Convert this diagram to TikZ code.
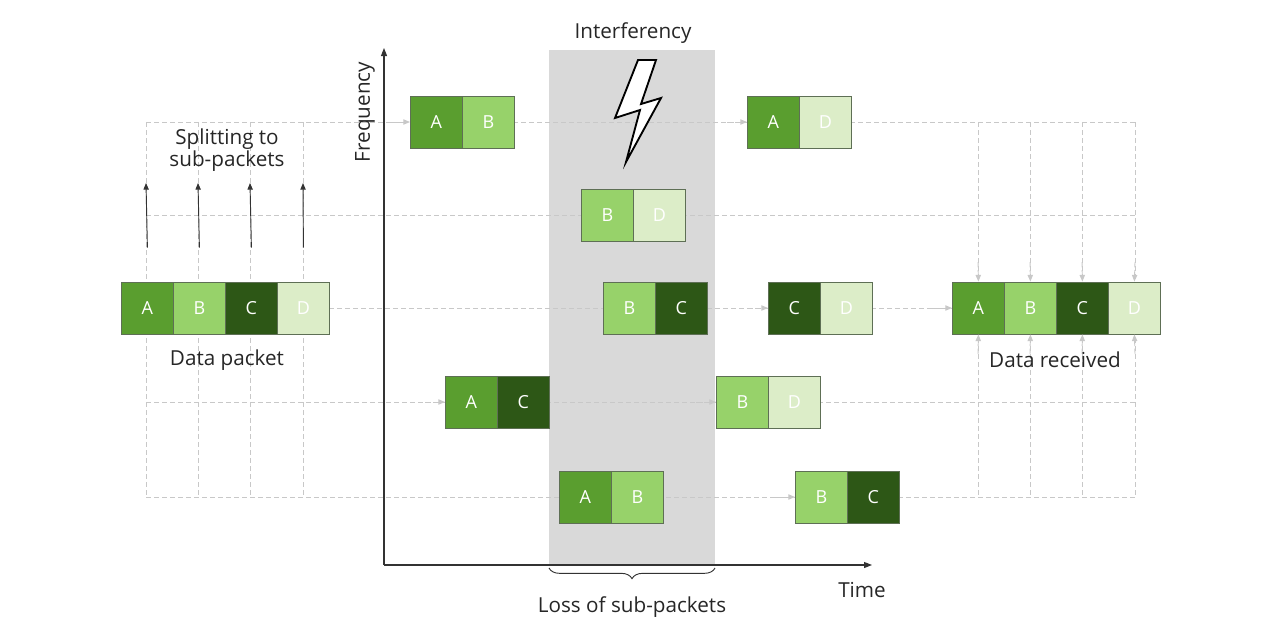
\documentclass[tikz,border=0pt]{standalone}
\usepackage{fontspec}
\setmainfont{Open Sans}
\usetikzlibrary{decorations.pathreplacing,arrows.meta}
\definecolor{cA}{HTML}{5A9E2F}
\definecolor{cB}{HTML}{97D26A}
\definecolor{cC}{HTML}{2D5716}
\definecolor{cD}{HTML}{DCEDC8}
\definecolor{gl}{HTML}{C8C8C8}
\definecolor{band}{HTML}{D9D9D9}
\tikzset{
 cell/.style={minimum width=39pt,minimum height=39pt,inner sep=0pt,draw=cC!40!gray,line width=0.6pt,text=white,font=\fontsize{13.5}{13.5}\selectfont,anchor=west},
 gd/.style={draw=gl,dashed,line width=0.7pt,dash pattern=on 4pt off 2pt},
 ga/.style={gd,-{Triangle[length=5pt,width=4pt]}},
 lbl/.style={font=\fontsize{15.5}{17}\selectfont,text=black!85,align=center}
}
\newcommand{\pkt}[4]{% name, x, y, letters list
 \foreach \L [count=\i from 0] in {#4} {\node[cell,fill=c\L] (#1\L) at ({#2+52*\i},#3) {\L};}}
\begin{document}
\begin{tikzpicture}[x=0.75pt,y=-0.75pt]
\useasboundingbox (0,0) rectangle (1280,640);
\fill[band] (549,50) rectangle (715,565);
% grid
\foreach \x in {146,198,250,303} \draw[gd] (\x,122) -- (\x,497);
\foreach \x in {978,1030,1082,1135} \draw[gd] (\x,122) -- (\x,497);
\draw[gd] (146,122) -- (410,122);
\draw[gd] (513,122) -- (747,122);
\draw[gd] (850,122) -- (1135,122);
\draw[gd] (146,215) -- (1135,215);
\draw[gd] (329,308) -- (603,308);
\draw[gd] (707,308) -- (768,308);
\draw[gd] (871,308) -- (952,308);
\draw[gd] (146,402) -- (1135,402);
\draw[gd] (146,497) -- (1135,497);
% packets
\pkt{p}{121}{308}{A,B,C,D}
\pkt{q}{410}{122}{A,B}
\pkt{r}{747}{122}{A,D}
\pkt{s}{581}{215}{B,D}
\pkt{t}{603}{308}{B,C}
\pkt{u}{768}{308}{C,D}
\pkt{v}{952}{308}{A,B,C,D}
\pkt{w}{445}{402}{A,C}
\pkt{x}{716}{402}{B,D}
\pkt{y}{559}{497}{A,B}
\pkt{z}{795}{497}{B,C}
% small arrows
\coordinate (a1) at (390,122); \draw[ga] (a1) -- (qA.west);
\coordinate (a2) at (727,122); \draw[ga] (a2) -- (rA.west);
\coordinate (a3) at (748,308); \draw[ga] (a3) -- (uC.west);
\coordinate (a4) at (932,308); \draw[ga] (a4) -- (vA.west);
\coordinate (a5) at (425,402); \draw[ga] (a5) -- (wA.west);
\coordinate (a6) at (696,402); \draw[ga] (a6) -- (xB.west);
\coordinate (a7) at (775,497); \draw[ga] (a7) -- (zB.west);
\foreach \L/\x in {A/978,B/1030,C/1082,D/1135}{
 \coordinate (t\L) at (\x,262); \draw[ga] (t\L) -- (v\L.north);
 \coordinate (b\L) at (\x,354); \draw[ga] (b\L) -- (v\L.south);}
% split arrows
\foreach \L/\x in {A/146,B/198,C/250,D/303}{
 \coordinate (s\L) at (\x,183); \draw[-{Triangle[length=5pt,width=4pt]},line width=0.7pt,black!80] (p\L.north) ++(0,-34) -- (s\L);}
% axes
\coordinate (o) at (384,565); \coordinate (yt) at (384,48); \coordinate (xt) at (872,565);
\draw[black!80,line width=0.8pt,-{Triangle[length=6pt,width=4.5pt]}] (o) -- (yt);
\draw[black!80,line width=0.8pt,-{Triangle[length=6pt,width=4.5pt]}] (o) -- (xt);
\node[lbl,rotate=90] (freq) at (365,112) {Frequency};
\node[lbl] (time) at (862,590) {Time};
\draw[decorate,decoration={brace,amplitude=8pt,mirror},black!80,line width=0.7pt] (549,568) -- (715,568);
\node[lbl] (loss) at (632,607) {Loss of sub-packets};
\node[lbl] (intf) at (633,33) {Interferency};
\node[lbl] (split) at (227,150) {Splitting to\\sub-packets};
\node[lbl] (dp) at (227,360) {Data packet};
\node[lbl] (dr) at (1055,360) {Data received};
% lightning
\draw[black,line width=1.4pt,fill=white,line join=miter] (638,60) -- (615,118) -- (640,110) -- (626,162) -- (661,98) -- (641,104) -- (656,60) -- cycle;
\end{tikzpicture}
\end{document}
